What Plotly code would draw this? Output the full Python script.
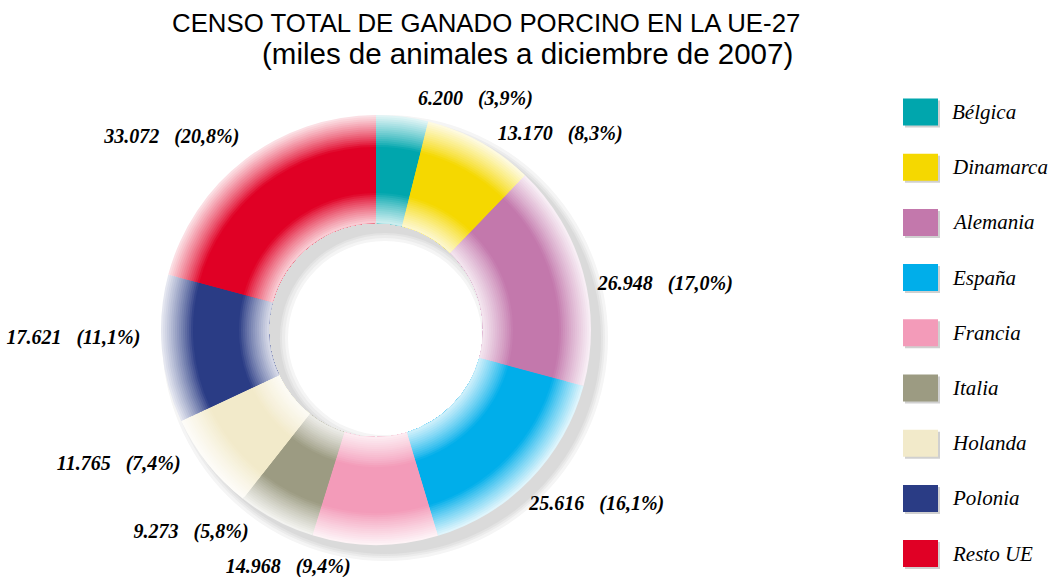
import plotly.graph_objects as go

# ---------------- data ----------------
categories = ["Bélgica", "Dinamarca", "Alemania", "España", "Francia",
              "Italia", "Holanda", "Polonia", "Resto UE"]
values = [6200, 13170, 26948, 25616, 14968, 9273, 11765, 17621, 33072]
colors = ["#00A6AD", "#F5D800", "#C378AC", "#00AEEA", "#F39BB9",
          "#9C9B82", "#F2EACA", "#2A3C85", "#E00025"]
title_line1 = "CENSO TOTAL DE GANADO PORCINO EN LA UE-27"
title_line2 = "(miles de animales a diciembre de 2007)"

# ---------------- geometry ----------------
W, H = 1055, 577
CX, CY = 376, 330          # donut centre (px)
R_OUT, R_IN = 215, 107
SAT_OUT, SAT_IN = 183, 137  # saturated band
R_TEXT = 225                # radius used to place the outside labels
TCX, TCY = 371, 331         # centre of the (invisible) label ring
TEXT_ROT = 3.5              # small rotation of the label ring


def mix(hexc, t):
    hexc = hexc.lstrip("#")
    r, g, b = int(hexc[0:2], 16), int(hexc[2:4], 16), int(hexc[4:6], 16)
    r = round(r + (255 - r) * t)
    g = round(g + (255 - g) * t)
    b = round(b + (255 - b) * t)
    return f"rgb({r},{g},{b})"


def domain(cx, cy, r):
    return dict(x=[(cx - r) / W, (cx + r) / W],
                y=[1 - (cy + r) / H, 1 - (cy - r) / H])


fig = go.Figure()

# shadow (offset down-right)
SX, SY = CX + 9, CY + 8
for r_o, r_h, col in [(223, 97, "#f5f5f5"), (220, 100, "#ececec"),
                      (218, 103, "#e3e3e3"), (216, 105, "#dadada")]:
    fig.add_trace(go.Pie(values=[1], labels=["shadow"], domain=domain(SX, SY, r_o),
                         hole=r_h / r_o, sort=False, textinfo="none",
                         marker=dict(colors=[col], line=dict(width=0)),
                         hoverinfo="skip", showlegend=False, automargin=False))

# build rings (discs drawn from largest to smallest, all with same hole)
rings = []
r = R_OUT
while r > SAT_OUT:
    t = 0.9 * ((r - 1 - SAT_OUT) / (R_OUT - SAT_OUT)) ** 0.85
    rings.append((r, max(t, 0)))
    r -= 2
rings.append((SAT_OUT, 0.0))
r = SAT_IN
while r > R_IN + 1:
    t = 0.82 * ((SAT_IN - (r - 1)) / (SAT_IN - R_IN)) ** 0.85
    rings.append((r, min(max(t, 0), 0.82)))
    r -= 2

for r_o, t in rings:
    fig.add_trace(go.Pie(
        values=values, labels=categories, domain=domain(CX, CY, r_o),
        hole=R_IN / r_o, sort=False, direction="clockwise", rotation=0,
        marker=dict(colors=[mix(c, t) for c in colors], line=dict(width=0)),
        textinfo="none", hoverinfo="label+value+percent", showlegend=False,
        automargin=False))

# transparent ring carrying the outside labels
fig.add_trace(go.Pie(
    values=values, labels=categories, domain=domain(TCX, TCY, R_TEXT),
    hole=0.99, sort=False, direction="clockwise", rotation=TEXT_ROT,
    marker=dict(colors=["rgba(0,0,0,0)"] * len(values), line=dict(width=0)),
    texttemplate="<b><i>%{value:,.0f}\u00a0\u00a0\u00a0(%{percent:.1%})</i></b>",
    textposition="outside",
    outsidetextfont=dict(family="Liberation Serif", size=20, color="black"),
    hoverinfo="skip", showlegend=False, automargin=False))

# ---------------- legend (drawn) ----------------
shapes = []
annotations = []
LX0, LX1 = 903, 938
LY0, LSTEP, LH = 112, 55.2, 27
for i, (cat, col) in enumerate(zip(categories, colors)):
    cy = LY0 + i * LSTEP
    shapes.append(dict(type="rect", xref="paper", yref="paper",
                       x0=(LX0 + 2) / W, x1=(LX1 + 2) / W,
                       y0=1 - (cy + LH / 2 + 2) / H, y1=1 - (cy - LH / 2 + 2) / H,
                       fillcolor="#d0d0d0", line=dict(width=0), layer="below"))
    shapes.append(dict(type="rect", xref="paper", yref="paper",
                       x0=LX0 / W, x1=LX1 / W,
                       y0=1 - (cy + LH / 2) / H, y1=1 - (cy - LH / 2) / H,
                       fillcolor=col, line=dict(width=0)))
    annotations.append(dict(text=f"<i>{cat}</i>", xref="paper", yref="paper",
                            x=950 / W, y=1 - cy / H, xanchor="left", yanchor="middle",
                            showarrow=False,
                            font=dict(family="Liberation Serif", size=21, color="black")))

annotations.append(dict(text=title_line1, xref="paper", yref="paper",
                        x=486 / W, y=1 - 23 / H, xanchor="center", yanchor="middle",
                        showarrow=False,
                        font=dict(family="Liberation Sans", size=25.8, color="black")))
annotations.append(dict(text=title_line2, xref="paper", yref="paper",
                        x=527 / W, y=1 - 54 / H, xanchor="center", yanchor="middle",
                        showarrow=False,
                        font=dict(family="Liberation Sans", size=29.5, color="black")))

fig.update_layout(width=W, height=H, autosize=False,
                  margin=dict(l=0, r=0, t=0, b=0, autoexpand=False),
                  paper_bgcolor="white", plot_bgcolor="white",
                  separators=",.", showlegend=False,
                  shapes=shapes, annotations=annotations)

fig.write_html("out.html", config={"displayModeBar": False},
               post_script="document.body.style.margin='0';document.body.style.overflow='hidden';")
